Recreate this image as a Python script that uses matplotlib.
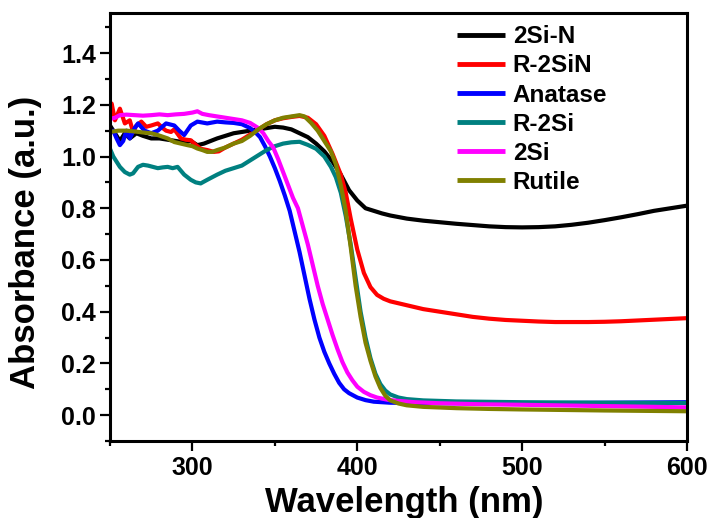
import matplotlib
matplotlib.use("Agg")
import matplotlib.pyplot as plt
from matplotlib.ticker import MultipleLocator

plt.rcParams['font.family'] = ['Liberation Sans', 'DejaVu Sans']
plt.rcParams['font.weight'] = 'bold'

labels = ["2Si-N", "R-2SiN", "Anatase", "R-2Si", "2Si", "Rutile"]
colors = ["#000000", "#FF0000", "#0000FF", "#008080", "#FF00FF", "#808000"]

wl_2sin = [250, 252, 254, 256, 259, 262, 266, 270, 275, 280, 285, 290, 295, 299, 303, 307, 311, 315,
           320, 325, 330, 335, 340, 345, 350, 355, 360, 365, 370, 375, 380, 385, 390, 395, 400, 405,
           410, 415, 420, 430, 440, 450, 460, 470, 480, 490, 500, 510, 520, 530, 540, 550, 560, 570,
           580, 590, 600]
ab_2sin = [1.12, 1.10, 1.08, 1.06, 1.09, 1.07, 1.09, 1.08, 1.07, 1.07, 1.065, 1.06, 1.055, 1.06, 1.044,
           1.05, 1.06, 1.07, 1.08, 1.09, 1.095, 1.10, 1.105, 1.11, 1.115, 1.112, 1.105, 1.09, 1.075,
           1.05, 1.02, 0.98, 0.93, 0.87, 0.83, 0.80, 0.79, 0.78, 0.772, 0.76, 0.752, 0.746, 0.74,
           0.735, 0.73, 0.727, 0.726, 0.727, 0.73, 0.736, 0.744, 0.754, 0.765, 0.777, 0.79, 0.80, 0.81]

wl_r2sin = [250, 251, 253, 256, 259, 262, 264, 266, 269, 272, 275, 279, 282, 284, 287, 289, 293, 296,
            299, 302, 305, 309, 313, 316, 320, 325, 330, 335, 340, 345, 350, 355, 360, 365, 370, 375,
            380, 385, 390, 393, 396, 400, 404, 408, 412, 416, 420, 430, 440, 450, 460, 470, 480, 490,
            500, 510, 520, 530, 540, 550, 560, 570, 580, 590, 600]
ab_r2sin = [1.18, 1.205, 1.14, 1.185, 1.128, 1.14, 1.095, 1.12, 1.135, 1.115, 1.12, 1.128, 1.11, 1.10,
            1.095, 1.105, 1.07, 1.065, 1.063, 1.045, 1.03, 1.025, 1.018, 1.02, 1.035, 1.05, 1.065, 1.085,
            1.105, 1.125, 1.14, 1.148, 1.153, 1.157, 1.15, 1.125, 1.08, 1.01, 0.93, 0.86, 0.76, 0.64,
            0.55, 0.495, 0.465, 0.45, 0.44, 0.425, 0.41, 0.40, 0.39, 0.38, 0.373, 0.368, 0.365, 0.362,
            0.36, 0.36, 0.36, 0.361, 0.363, 0.366, 0.369, 0.372, 0.375]

wl_anatase = [250, 252, 254, 256, 258, 260, 262, 265, 267, 271, 275, 279, 284, 289, 292, 295, 299, 303,
              309, 315, 320, 325, 330, 335, 338, 341, 344, 347, 350, 353, 356, 359, 362, 365, 368, 371,
              374, 377, 380, 383, 386, 389, 392, 395, 400, 405, 410, 420, 450, 500, 550, 600]
ab_anatase = [1.09, 1.10, 1.07, 1.044, 1.06, 1.10, 1.07, 1.11, 1.128, 1.10, 1.09, 1.10, 1.128, 1.12,
              1.10, 1.083, 1.12, 1.135, 1.128, 1.135, 1.132, 1.13, 1.125, 1.11, 1.095, 1.075, 1.04, 1.0,
              0.955, 0.905, 0.85, 0.79, 0.71, 0.63, 0.54, 0.45, 0.37, 0.30, 0.245, 0.20, 0.16, 0.125,
              0.10, 0.085, 0.068, 0.058, 0.052, 0.048, 0.046, 0.046, 0.048, 0.05]

wl_r2si = [250, 252, 254, 256, 259, 262, 264, 267, 270, 273, 276, 279, 282, 285, 288, 291, 293, 295,
           297, 299, 302, 305, 307, 309, 312, 315, 320, 325, 330, 335, 340, 345, 350, 355, 360, 365,
           370, 375, 380, 384, 387, 390, 393, 396, 399, 402, 405, 408, 411, 414, 417, 420, 425, 430,
           440, 460, 500, 550, 600]
ab_r2si = [1.03, 1.0, 0.98, 0.96, 0.94, 0.93, 0.935, 0.96, 0.968, 0.965, 0.96, 0.955, 0.958, 0.96,
           0.955, 0.96, 0.945, 0.93, 0.92, 0.91, 0.9, 0.896, 0.903, 0.91, 0.92, 0.93, 0.945, 0.955, 0.965,
           0.985, 1.005, 1.025, 1.04, 1.05, 1.055, 1.057, 1.045, 1.03, 1.0, 0.96, 0.92, 0.86, 0.77,
           0.66, 0.53, 0.40, 0.30, 0.22, 0.16, 0.12, 0.095, 0.08, 0.068, 0.062, 0.057, 0.053, 0.05,
           0.048, 0.047]

wl_2si = [250, 253, 256, 260, 265, 270, 275, 280, 285, 290, 295, 300, 303, 306, 310, 315, 320, 325,
          330, 335, 340, 343, 346, 349, 352, 355, 358, 361, 364, 367, 370, 373, 376, 379, 382, 385,
          388, 391, 394, 397, 400, 404, 408, 412, 418, 425, 435, 450, 475, 500, 550, 600]
ab_2si = [1.145, 1.15, 1.16, 1.162, 1.16, 1.158, 1.16, 1.163, 1.16, 1.163, 1.165, 1.17, 1.175, 1.165,
          1.16, 1.155, 1.15, 1.145, 1.14, 1.13, 1.11, 1.09, 1.06, 1.035, 0.99, 0.94, 0.89, 0.84, 0.80,
          0.73, 0.66, 0.58, 0.50, 0.43, 0.37, 0.31, 0.255, 0.205, 0.165, 0.135, 0.11, 0.09, 0.077,
          0.068, 0.06, 0.055, 0.05, 0.046, 0.042, 0.04, 0.035, 0.03]

wl_rutile = [250, 255, 260, 265, 270, 275, 279, 285, 289, 293, 297, 300, 303, 306, 309, 312, 315, 320,
             325, 330, 335, 340, 345, 350, 355, 360, 365, 368, 372, 376, 380, 384, 387, 390, 393, 396,
             399, 402, 405, 408, 411, 414, 417, 420, 425, 430, 440, 460, 480, 500, 550, 600]
ab_rutile = [1.095, 1.10, 1.10, 1.097, 1.093, 1.09, 1.083, 1.07, 1.056, 1.05, 1.044, 1.04, 1.031,
             1.025, 1.018, 1.018, 1.025, 1.035, 1.05, 1.06, 1.08, 1.105, 1.125, 1.14, 1.15, 1.155,
             1.16, 1.155, 1.13, 1.10, 1.06, 1.02, 0.97, 0.89, 0.79, 0.65, 0.50, 0.38, 0.28, 0.21, 0.15,
             0.105, 0.075, 0.057, 0.045, 0.038, 0.032, 0.027, 0.024, 0.022, 0.018, 0.015]

series = [(wl_2sin, ab_2sin), (wl_r2sin, ab_r2sin), (wl_anatase, ab_anatase),
          (wl_r2si, ab_r2si), (wl_2si, ab_2si), (wl_rutile, ab_rutile)]

fig = plt.figure(figsize=(7.1, 5.18), dpi=100)
ax = fig.add_axes([110 / 710, 1 - 441 / 518, 577 / 710, 428 / 518])

for (x, y), lab, col in zip(series, labels, colors):
    ax.plot(x, y, color=col, lw=3, label=lab, solid_capstyle='butt')

ax.set_xlim(250, 600)
ax.set_ylim(-0.1, 1.555)
ax.xaxis.set_major_locator(MultipleLocator(100))
ax.xaxis.set_minor_locator(MultipleLocator(50))
ax.yaxis.set_minor_locator(MultipleLocator(0.1))
ax.set_yticks([0.0, 0.2, 0.4, 0.6, 0.8, 1.0, 1.2, 1.4])
ax.set_yticklabels(["0.0", "0.2", "0.4", "0.6", "0.8", "1.0", "1.2", "1.4"])

for s in ax.spines.values():
    s.set_linewidth(2.2)
ax.tick_params(which='both', direction='out', width=1.6, top=False, right=False, labelsize=18)
ax.tick_params(which='major', length=7)
ax.tick_params(which='minor', length=3.6)
ax.tick_params(axis='x', pad=4)
ax.tick_params(axis='y', pad=3)

ax.set_xlabel("Wavelength (nm)", fontsize=25, fontweight='bold')
ax.set_ylabel("Absorbance (a.u.)", fontsize=25, fontweight='bold')
ax.xaxis.set_label_coords(0.51, -0.105)
ax.yaxis.set_label_coords(-0.118, 0.463)

leg = ax.legend(loc='upper left', bbox_to_anchor=(0.601, 0.971), frameon=False, fontsize=17.5,
                handlelength=2.0, handletextpad=0.3, labelspacing=0.25, borderpad=0, borderaxespad=0)
for h in leg.get_lines():
    h.set_linewidth(3.5)

fig.savefig("out.png", dpi=100)
